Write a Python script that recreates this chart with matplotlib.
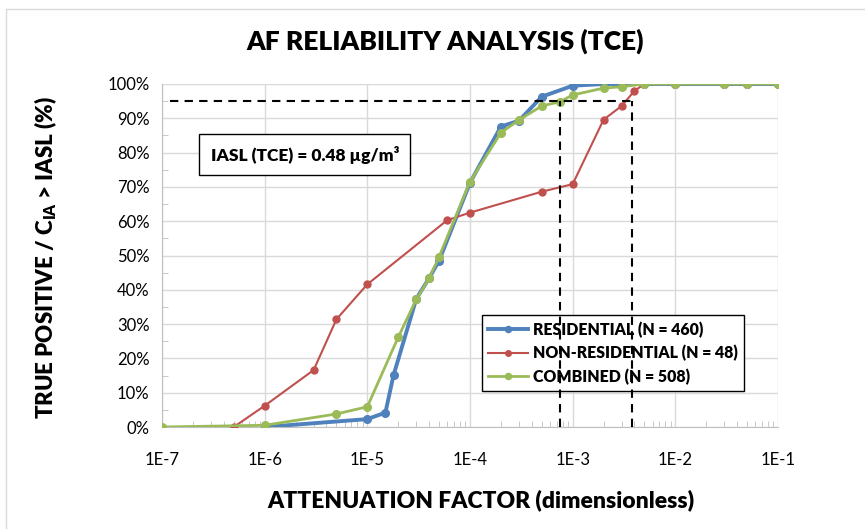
import matplotlib
matplotlib.use("Agg")
import matplotlib.pyplot as plt
from matplotlib.ticker import FixedLocator, LogLocator, NullFormatter, FuncFormatter
import numpy as np

# attenuation factor vs. percentage of true positives
res_af = [1e-6, 1e-5, 1.5e-5, 1.8e-5, 3e-5, 4e-5, 5e-5, 1e-4, 2e-4, 3e-4, 5e-4,
          1e-3, 2e-3, 3e-3, 5e-3, 1e-2, 3e-2, 5e-2, 1e-1]
res_tp = [0.0, 2.3, 4.2, 15.1, 37.4, 43.4, 48.5, 71.2, 87.6, 89.3, 96.3,
          99.5, 100, 100, 100, 100, 100, 100, 100]

nonres_af = [5e-7, 1e-6, 3e-6, 5e-6, 1e-5, 6e-5, 1e-4, 5e-4, 1e-3, 2e-3, 3e-3,
             4e-3, 5e-3, 1e-2, 3e-2, 5e-2, 1e-1]
nonres_tp = [0.0, 6.2, 16.6, 31.4, 41.6, 60.3, 62.5, 68.6, 70.8, 89.6, 93.6,
             98.0, 100, 100, 100, 100, 100]

comb_af = [1e-7, 1e-6, 5e-6, 1e-5, 2e-5, 3e-5, 4e-5, 5e-5, 1e-4, 2e-4, 3e-4,
           5e-4, 7.5e-4, 1e-3, 2e-3, 3e-3, 5e-3, 1e-2, 3e-2, 5e-2, 1e-1]
comb_tp = [0.0, 0.5, 3.8, 5.9, 26.2, 37.2, 43.4, 49.6, 71.5, 85.8, 89.5,
           93.6, 94.8, 96.8, 98.8, 99.2, 100, 100, 100, 100, 100]

target = 95
af_comb_95 = 7.6e-4
af_nonres_95 = 3.8e-3

plt.rcParams['font.family'] = ['Lato', 'DejaVu Sans']
plt.rcParams['mathtext.fontset'] = 'custom'
plt.rcParams['mathtext.rm'] = 'Lato'
plt.rcParams['mathtext.bf'] = 'Lato:heavy'

fig = plt.figure(figsize=(8.65, 5.29), dpi=100)
ax = fig.add_axes([162/865, 1 - 427/529, 616/865, 343/529])

# chart border
fig.patches.append(plt.Rectangle((6/865, -0.1), 1.1, 1 - 9/529 + 0.1,
                                 transform=fig.transFigure, fill=False,
                                 edgecolor='#D9D9D9', lw=1))

ax.plot(res_af, res_tp, '-o', color='#4F81BD', lw=2.8, ms=5.5,
        label='RESIDENTIAL (N = 460)', zorder=3)
ax.plot(nonres_af, nonres_tp, '-o', color='#C0504D', lw=1.5, ms=5,
        label='NON-RESIDENTIAL (N = 48)', zorder=4)
ax.plot(comb_af, comb_tp, '-o', color='#9BBB59', lw=2, ms=5.5,
        label='COMBINED (N = 508)', zorder=5)

# 95 % reference lines
dash = (0, (4, 3))
ax.plot([1.2e-7, af_nonres_95], [target, target], ls=dash, color='black', lw=1.5, zorder=6)
ax.plot([af_comb_95, af_comb_95], [0, target], ls=dash, color='black', lw=1.5, zorder=6)
ax.plot([af_nonres_95, af_nonres_95], [0, target], ls=dash, color='black', lw=1.5, zorder=6)

ax.set_xscale('log')
ax.set_xlim(1e-7, 1e-1)
ax.set_ylim(0, 100)

ax.xaxis.set_major_locator(LogLocator(base=10, numticks=20))
ax.xaxis.set_minor_locator(LogLocator(base=10, subs=np.arange(2, 10), numticks=20))
ax.xaxis.set_minor_formatter(NullFormatter())
ax.xaxis.set_major_formatter(FuncFormatter(lambda v, p: '1E%d' % round(np.log10(v))))
ax.yaxis.set_major_locator(FixedLocator(np.arange(0, 101, 10)))
ax.yaxis.set_minor_locator(FixedLocator(np.arange(5, 100, 10)))
ax.yaxis.set_major_formatter(FuncFormatter(lambda v, p: '%d%%' % v))

ax.grid(True, which='major', color='#D9D9D9', lw=1)
ax.set_axisbelow(True)
for s in ['top', 'right']:
    ax.spines[s].set_visible(False)
for s in ['left', 'bottom']:
    ax.spines[s].set_color('#BFBFBF')
ax.tick_params(which='major', length=0, labelsize=12, pad=9, colors='black')
ax.tick_params(which='minor', direction='in', length=4, color='#BFBFBF')
ax.tick_params(axis='x', which='major', pad=18)

ax.text(0.232, 0.794, 'IASL (TCE) = 0.48 µg/m³', transform=ax.transAxes,
        ha='center', va='center', fontsize=12.5, fontweight='heavy',
        bbox=dict(boxstyle='square,pad=0.65', fc='white', ec='black', lw=1))

leg = ax.legend(loc='upper left', bbox_to_anchor=(0.519, 0.3265),
                prop={'weight': 'heavy', 'size': 11.4}, frameon=True, fancybox=False,
                edgecolor='black', framealpha=1, handlelength=2.5, markerscale=0.8,
                borderpad=0.4, labelspacing=0.45, handletextpad=0.35, borderaxespad=0)
leg.get_frame().set_linewidth(1)

fig.text(445/865, 1 - 41/529, 'AF RELIABILITY ANALYSIS (TCE)', ha='center', va='center',
         fontsize=19, fontweight='heavy')
fig.text(481/865, 1 - 500/529, 'ATTENUATION FACTOR (dimensionless)', ha='center',
         va='center', fontsize=16.5, fontweight='heavy')
fig.text(46/865, 1 - 257/529, r'TRUE POSITIVE / C$_{\mathbf{IA}}$ > IASL (%)',
         ha='center', va='center', rotation=90, fontsize=16, fontweight='heavy')

fig.savefig('out.png', dpi=100)
